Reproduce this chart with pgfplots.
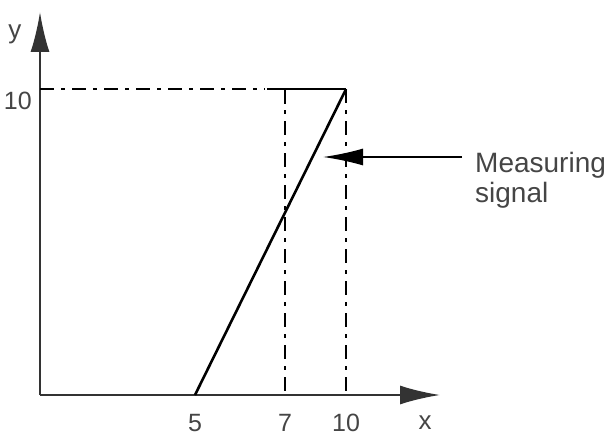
\documentclass[border=0pt]{standalone}
\usepackage{fontspec}
\setmainfont{Liberation Sans}
\usepackage{pgfplots}
\pgfplotsset{compat=1.18}
\usetikzlibrary{arrows.meta}

\definecolor{axisgray}{HTML}{333333}
\definecolor{textgray}{HTML}{454545}

\tikzset{
  dashdot/.style={line width=1.4pt, black, dash pattern=on 14pt off 7pt on 4pt off 7pt},
  bigarrow/.style={-{Latex[length=40pt,width=19pt]}},
}

\begin{document}
\begin{tikzpicture}[x=1pt,y=1pt]
\useasboundingbox (0,0) rectangle (615,436);
\begin{axis}[
  at={(40pt,41pt)}, anchor=south west,
  scale only axis, width=400pt, height=383pt,
  xmin=-0.13, xmax=13.11, ymin=0, ymax=12.52,
  axis lines=left,
  axis line style={line width=2pt, axisgray},
  x axis line style={bigarrow},
  y axis line style={bigarrow},
  xtick={5,7.98,10}, xticklabels={5,7,10},
  ytick={10}, yticklabels={10},
  major tick length=0pt,
  /pgf/number format/assume math mode=true,
  xticklabel style={anchor=north, inner sep=0pt, yshift=-19pt,
    text=textgray, font=\fontsize{25}{30}\selectfont},
  yticklabel style={anchor=north east, inner sep=0pt, xshift=-8pt, yshift=-3pt,
    text=textgray, font=\fontsize{25}{30}\selectfont},
  clip=false,
]
% reference lines at y = 10, x = 7 and x = 10
\addplot[dashdot] coordinates {(-0.13,10) (7.3,10)};
\addplot[black, line width=1.6pt] coordinates {(7.38,10) (10,10)};
\addplot[dashdot] coordinates {(7.98,10) (7.98,0)};
\addplot[black, line width=1.6pt] coordinates {(7.98,10) (7.98,9.51)};
\addplot[dashdot] coordinates {(10,10) (10,0)};
% measuring signal
\addplot[black, line width=2.6pt] coordinates {(5,0) (10,10)};
% pointer to the signal line
\draw[line width=1.5pt, black, -{Latex[length=40pt,width=17pt]}]
  (axis cs:13.84,7.78) -- (axis cs:9.24,7.78);
\end{axis}
\node[anchor=north west, align=left, inner sep=0pt, text=textgray,
  font=\fontsize{28}{30}\selectfont] at (475,283.5) {Measuring\\signal};
\node[text=textgray, font=\fontsize{26}{30}\selectfont, inner sep=0pt] at (425,13) {x};
\node[text=textgray, font=\fontsize{26}{30}\selectfont, inner sep=0pt] at (15,402) {y};
\end{tikzpicture}
\end{document}
